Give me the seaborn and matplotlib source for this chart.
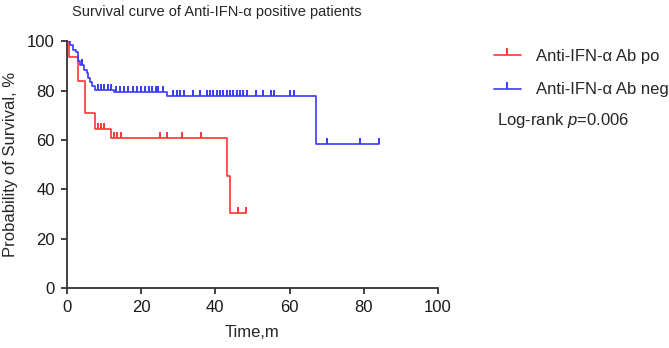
import numpy as np
import pandas as pd
import matplotlib
matplotlib.use("Agg")
import matplotlib.pyplot as plt
from matplotlib.lines import Line2D
import seaborn as sns

# ---- data ----
pos_time = [0, 0.6, 2.9, 4.8, 7.7, 12.0, 43.1, 44.0, 48.2]
pos_surv = [100, 93.5, 83.9, 71.0, 64.5, 60.7, 45.5, 30.3, 30.3]
pos_cens = [8.3, 9.1, 10.0, 12.6, 13.5, 14.5, 25.1, 26.9, 31.1, 36.1, 46.0, 48.2]

neg_time = [0, 0.86, 1.76, 2.4, 2.9, 3.56, 4.7, 5.4, 5.8, 6.25, 6.9, 7.6, 12.8, 26.9, 67.1, 84.0]
neg_surv = [100, 98.4, 96.6, 95.5, 91.9, 90.6, 88.5, 87.2, 85.2, 83.4, 81.8, 80.4, 79.4, 77.8, 58.5, 58.5]
neg_cens = [4.2, 8.3, 9.2, 10.1, 11.0, 11.8,
            13.2, 14.3, 15.5, 16.6, 17.7, 18.8, 20.0, 21.1, 22.2, 23.0, 23.9, 24.7, 25.8,
            28.6, 29.6, 30.6, 31.7, 34.1, 35.9,
            37.7, 38.6, 39.5, 40.4, 41.3, 42.2, 43.1, 44.0, 44.9, 45.8, 46.7, 47.6, 48.5,
            50.9, 52.8, 55.0, 55.9, 60.0, 61.1, 70.1, 79.1, 84.0]

series_names = ["Anti-IFN-\u03b1 Ab po", "Anti-IFN-\u03b1 Ab neg"]
x_ticks = [0, 20, 40, 60, 80, 100]
y_ticks = [0, 20, 40, 60, 80, 100]

RED = "#FF3535"
BLUE = "#3A3AFF"


def surv_at(times, surv, t):
    idx = np.searchsorted(np.asarray(times), np.asarray(t), side="right") - 1
    return np.asarray(surv)[idx]


sns.set_style("ticks")
plt.rcParams["font.family"] = ["Liberation Sans", "DejaVu Sans"]
plt.rcParams["mathtext.fontset"] = "custom"
plt.rcParams["mathtext.it"] = "Liberation Sans:italic"
plt.rcParams["mathtext.rm"] = "Liberation Sans"

fig = plt.figure(figsize=(6.69, 3.48), dpi=100)
ax = fig.add_axes([66.8 / 669, 1 - 288 / 348, (438 - 66.8) / 669, (288 - 41.4) / 348])

for times, surv, cens, color in [(pos_time, pos_surv, pos_cens, RED),
                                 (neg_time, neg_surv, neg_cens, BLUE)]:
    df = pd.DataFrame({"time": times, "surv": surv})
    sns.lineplot(data=df, x="time", y="surv", drawstyle="steps-post",
                 color=color, lw=1.2, estimator=None, sort=False, ax=ax)
    cdf = pd.DataFrame({"time": cens, "surv": surv_at(times, surv, cens)})
    sns.scatterplot(data=cdf, x="time", y="surv", marker=2, s=16,
                    color=color, linewidth=1.4, ax=ax, zorder=3)

ax.set_xlim(0, 100)
ax.set_ylim(0, 100)
ax.set_xticks(x_ticks)
ax.set_yticks(y_ticks)
ax.tick_params(axis="both", length=4.5, width=1.3, color="#333333",
               labelsize=12, labelcolor="#1a1a1a", pad=4)
for side in ["left", "bottom"]:
    ax.spines[side].set_linewidth(1.3)
    ax.spines[side].set_color("#333333")
sns.despine(ax=ax)
ax.set_xlabel("Time,m", fontsize=12, labelpad=7)
ax.set_ylabel("Probability of Survival, %", fontsize=12, labelpad=7)

fig.text(72 / 669, 1 - 12 / 348, "Survival curve of Anti-IFN-\u03b1 positive patients",
         fontsize=10.5, ha="left", va="center")

handles = [Line2D([0], [0], color=RED, lw=1.2, marker=2, markersize=5, mew=1.4),
           Line2D([0], [0], color=BLUE, lw=1.2, marker=2, markersize=5, mew=1.4)]
fig.legend(handles, series_names, loc="upper left",
           bbox_to_anchor=(494 / 669, 1 - 49 / 348), frameon=False,
           fontsize=12, handlelength=1.6, handletextpad=0.9, labelspacing=1.1,
           borderpad=0, borderaxespad=0, numpoints=1)
fig.text(497 / 669, 1 - 121 / 348, "Log-rank $p$=0.006", fontsize=12,
         ha="left", va="center")

fig.savefig("out.png", dpi=100)
